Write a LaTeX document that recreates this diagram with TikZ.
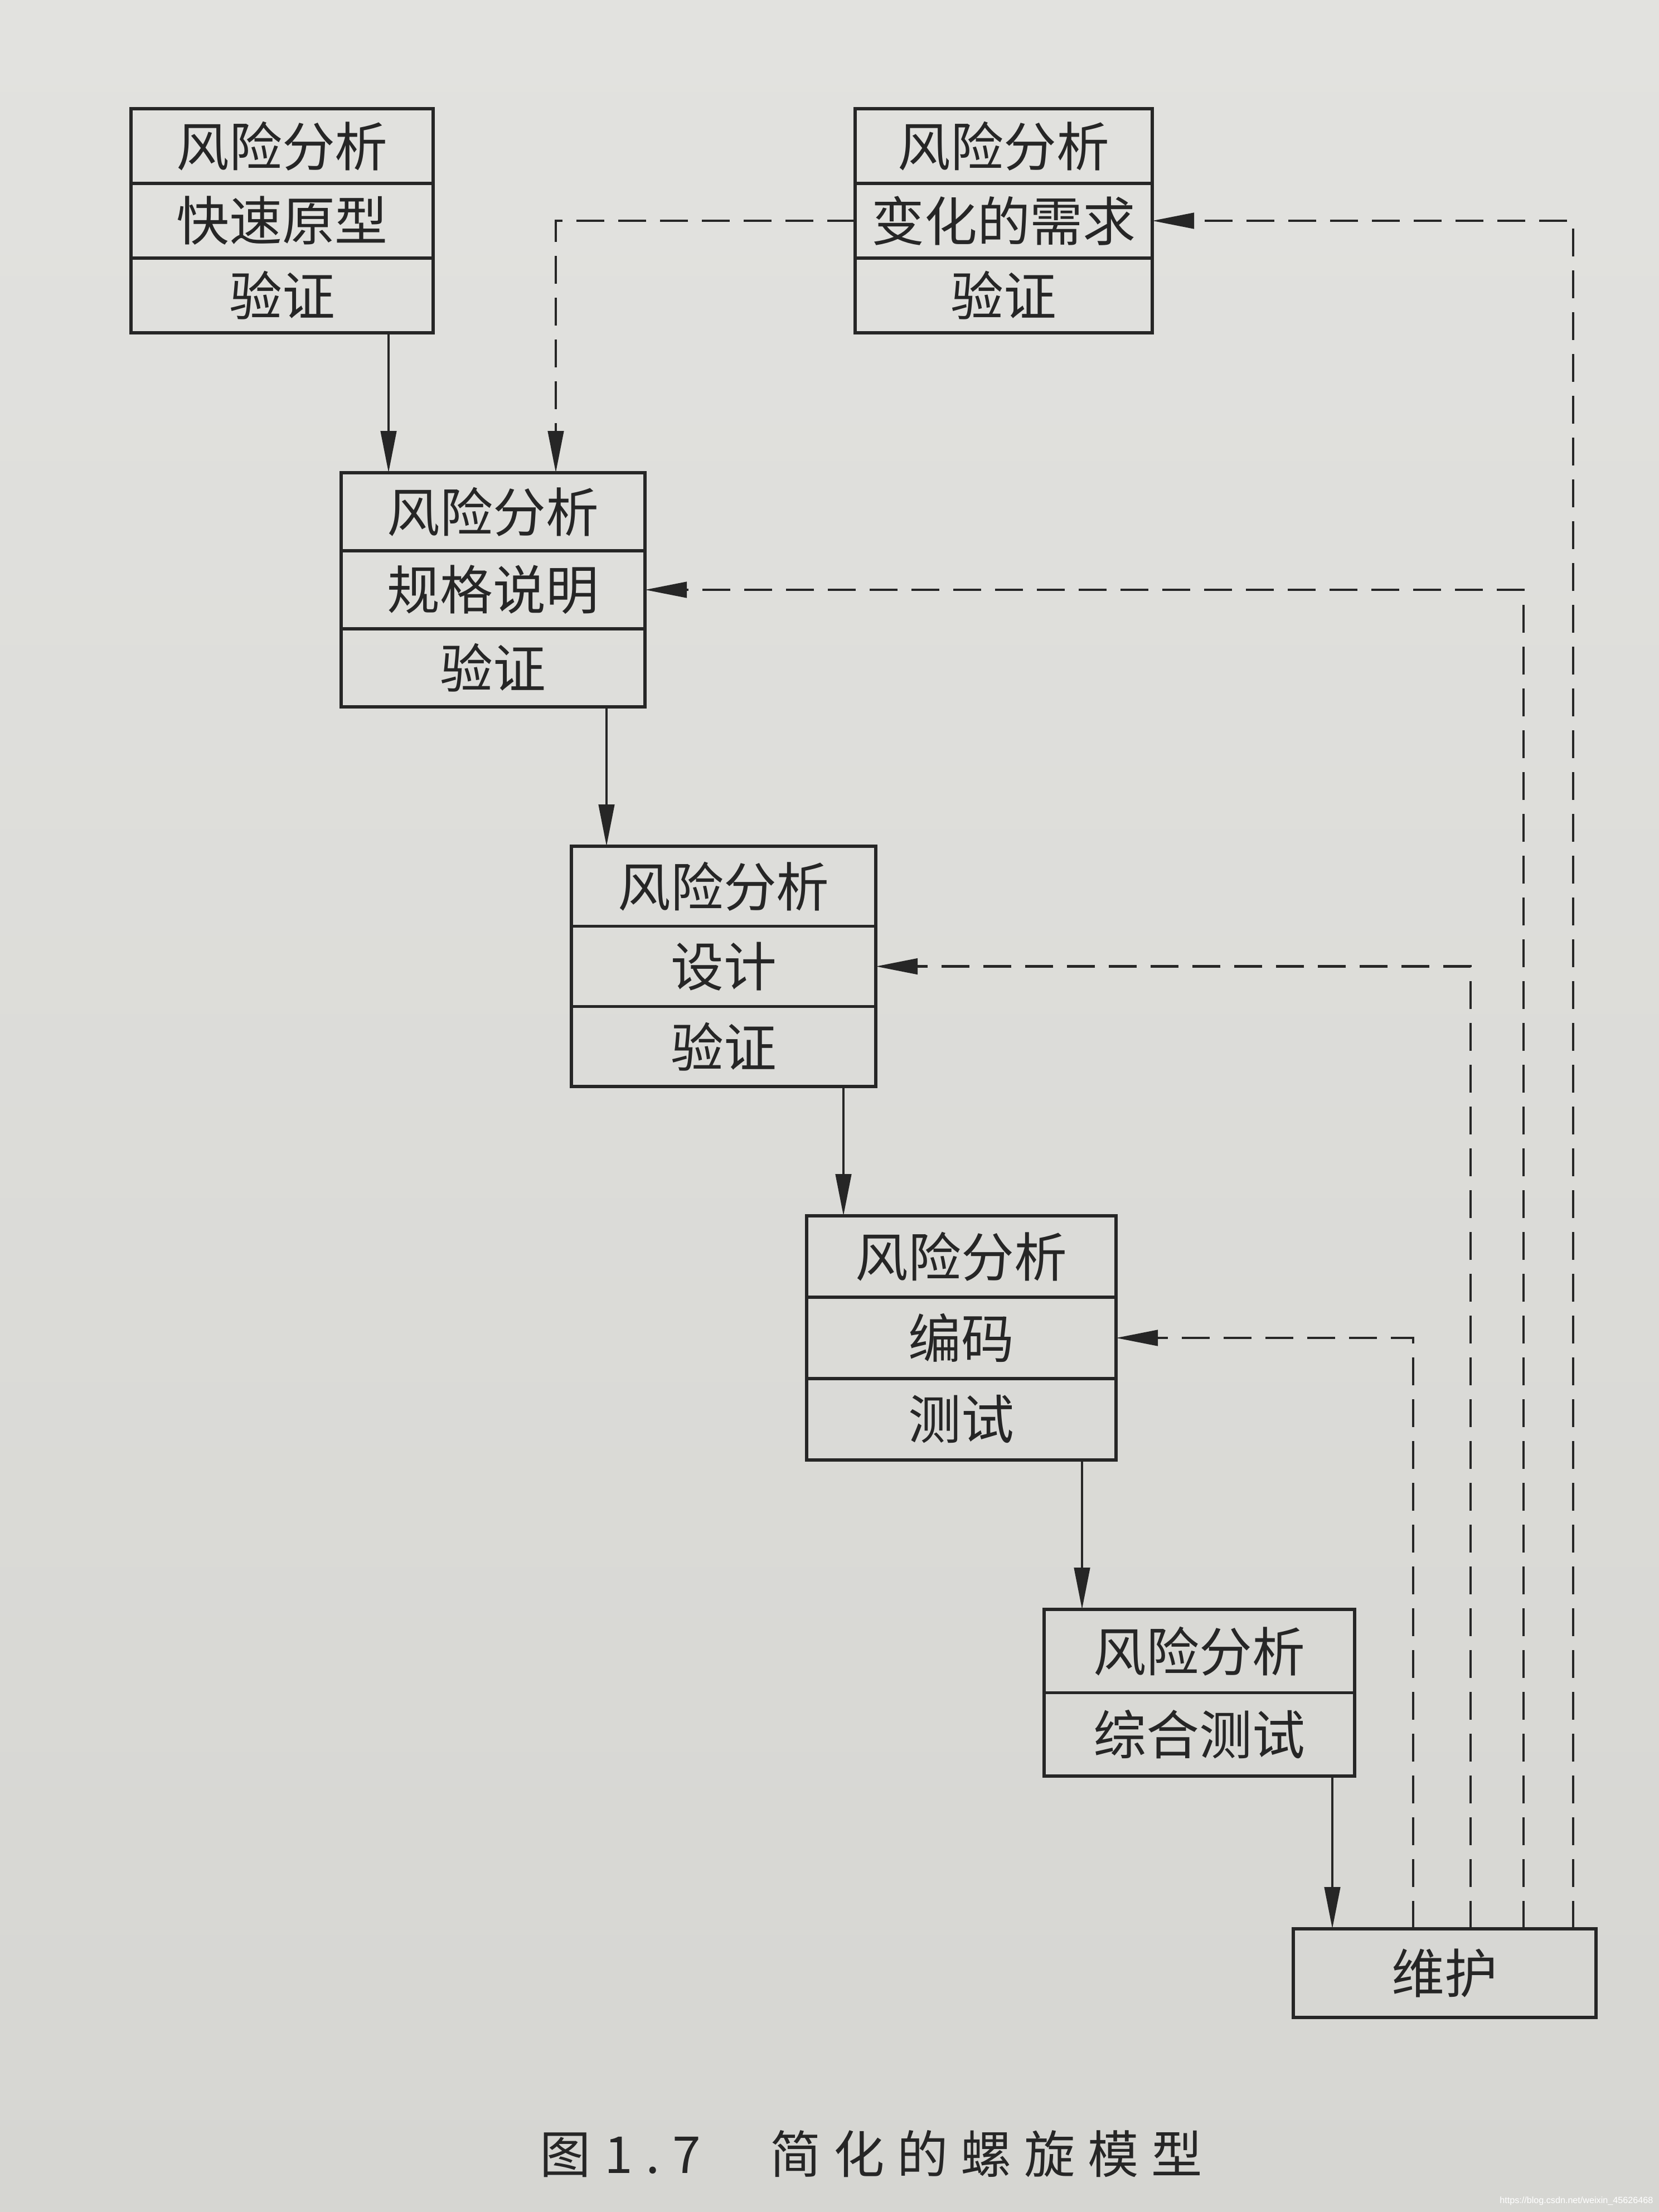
\documentclass[tikz,border=0pt]{standalone}
\usepackage{fontspec}
\setmainfont{Noto Sans CJK SC}
\newfontfamily\wmfont{Liberation Sans}
\usetikzlibrary{arrows.meta,calc}
\newcommand\capchar[1]{\makebox[1.14cm][c]{#1}}
\definecolor{ink}{HTML}{262626}
\definecolor{paper}{HTML}{E2E2DF}
\definecolor{paperdark}{HTML}{D6D6D2}
\begin{document}
\begin{tikzpicture}[
  cell/.style={draw=ink, line width=1.5pt, inner sep=0pt, outer sep=0pt,
    font=\fontsize{27}{27}\selectfont, text=ink},
  bA/.style={cell, minimum width=5.42cm, minimum height=1.34cm},
  bB/.style={cell, minimum width=5.33cm, minimum height=1.34cm},
  bC/.style={cell, minimum width=5.45cm, minimum height=1.40cm},
  bD/.style={cell, minimum width=5.46cm, minimum height=1.437cm},
  bE/.style={cell, minimum width=5.55cm, minimum height=1.46cm},
  bF/.style={cell, minimum width=5.57cm, minimum height=1.495cm},
  bG/.style={cell, minimum width=5.43cm, minimum height=1.59cm},
  arr/.style={draw=ink, line width=1.35pt, -{Triangle[length=0.75cm,width=0.28cm]}},
  darr/.style={arr, dash pattern=on 0.5cm off 0.25cm},
  captxt/.style={text=ink, font=\fontsize{26}{26}\selectfont, anchor=base, inner sep=0pt}
]
\useasboundingbox (0,0) rectangle (29.76,-39.68);
\shade[top color=paper, bottom color=paperdark] (0,0) rectangle (29.76,-39.68);

% box 1
\node[bA] (b1a) at (5.06,-2.62) {风险分析};
\node[bA] (b1b) at (5.06,-3.96) {快速原型};
\node[bA] (b1c) at (5.06,-5.30) {验证};
% box 2
\node[bB] (b2a) at (18.005,-2.62) {风险分析};
\node[bB] (b2b) at (18.005,-3.96) {变化的需求};
\node[bB] (b2c) at (18.005,-5.30) {验证};
% box 3
\node[bC] (b3a) at (8.845,-9.18) {风险分析};
\node[bC] (b3b) at (8.845,-10.58) {规格说明};
\node[bC] (b3c) at (8.845,-11.98) {验证};
% box 4
\node[bD] (b4a) at (12.98,-15.8985) {风险分析};
\node[bD] (b4b) at (12.98,-17.3355) {设计};
\node[bD] (b4c) at (12.98,-18.7725) {验证};
% box 5
\node[bE] (b5a) at (17.245,-22.54) {风险分析};
\node[bE] (b5b) at (17.245,-24.00) {编码};
\node[bE] (b5c) at (17.245,-25.46) {测试};
% box 6
\node[bF] (b6a) at (21.515,-29.6175) {风险分析};
\node[bF] (b6b) at (21.515,-31.1125) {综合测试};
% box 7
\node[bG] (b7) at (25.915,-35.395) {维护};

% solid flow
\draw[arr] ([xshift=1.91cm]b1c.south) -- ([xshift=1.91cm]b1c.south |- b3a.north);
\draw[arr] ([xshift=2.035cm]b3c.south) -- ([xshift=2.035cm]b3c.south |- b4a.north);
\draw[arr] ([xshift=2.15cm]b4c.south) -- ([xshift=2.15cm]b4c.south |- b5a.north);
\draw[arr] ([xshift=2.165cm]b5c.south) -- ([xshift=2.165cm]b5c.south |- b6a.north);
\draw[arr] ([xshift=2.385cm]b6b.south) -- ([xshift=2.385cm]b6b.south |- b7.north);

% dashed feedback
\draw[darr] (b2b.west) -| ([xshift=1.125cm]b3a.north);
\draw[darr] ([xshift=-0.565cm]b7.north) |- (b5b.east);
\draw[darr] ([xshift=0.465cm]b7.north) |- (b4b.east);
\draw[darr] ([xshift=1.415cm]b7.north) |- (b3b.east);
\draw[darr] ([xshift=2.305cm]b7.north) |- (b2b.east);

% caption
\node[captxt] (cap1) at (10.14,-38.98) {图};
\node[captxt] (cap2) at (11.71,-38.98) {1\hspace{0.23cm}.\hspace{0.23cm}7};
\node[captxt] (cap3) at (17.69,-38.98) {\capchar{简}\capchar{化}\capchar{的}\capchar{螺}\capchar{旋}\capchar{模}\capchar{型}};

% watermark
\node[anchor=base east, inner sep=0pt, text=white, font=\wmfont\fontsize{4.6}{5}\selectfont] (wm) at (29.66,-39.52) {https://blog.csdn.net/weixin\_45626468};
\end{tikzpicture}
\end{document}
